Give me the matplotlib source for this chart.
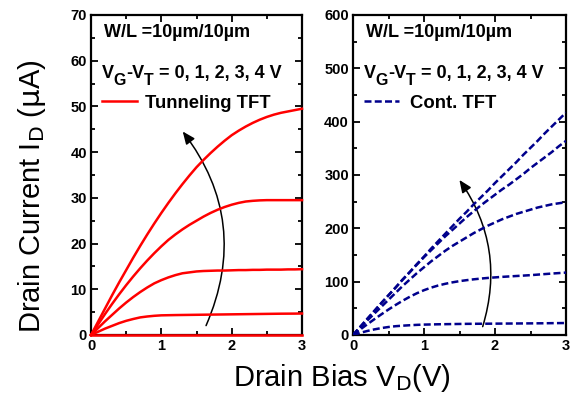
import matplotlib
matplotlib.use("Agg")
import matplotlib.pyplot as plt
from matplotlib.ticker import MultipleLocator

plt.rcParams['font.family'] = ['Liberation Sans', 'DejaVu Sans']

# Drain bias (V)
vd = [0.0, 0.1, 0.2, 0.3, 0.4, 0.5, 0.6, 0.7, 0.8, 0.9, 1.0,
      1.1, 1.2, 1.3, 1.4, 1.5, 1.6, 1.7, 1.8, 1.9, 2.0,
      2.1, 2.2, 2.3, 2.4, 2.5, 2.6, 2.7, 2.8, 2.9, 3.0]

# Tunneling TFT drain current (uA), VG-VT = 0..4 V
tun_0 = [0] * 31
tun_1 = [0, 0.7, 1.4, 2.0, 2.6, 3.1, 3.5, 3.85, 4.05, 4.2, 4.3,
         4.33, 4.36, 4.38, 4.4, 4.42, 4.44, 4.46, 4.48, 4.5, 4.52,
         4.54, 4.56, 4.58, 4.6, 4.62, 4.64, 4.66, 4.67, 4.68, 4.7]
tun_2 = [0, 1.5, 3.0, 4.4, 5.8, 7.1, 8.3, 9.4, 10.4, 11.3, 12.0,
         12.6, 13.1, 13.5, 13.7, 13.9, 14.0, 14.05, 14.1, 14.1, 14.15,
         14.2, 14.2, 14.25, 14.25, 14.3, 14.3, 14.3, 14.35, 14.35, 14.4]
tun_3 = [0, 2.3, 4.6, 6.8, 8.9, 10.9, 12.8, 14.6, 16.3, 17.9, 19.4,
         20.8, 22.0, 23.1, 24.1, 25.0, 25.9, 26.7, 27.4, 28.0, 28.5,
         28.9, 29.2, 29.35, 29.45, 29.5, 29.5, 29.5, 29.5, 29.5, 29.5]
tun_4 = [0, 2.9, 5.8, 8.7, 11.5, 14.2, 16.9, 19.5, 22.0, 24.4, 26.7,
         28.9, 31.0, 33.0, 34.9, 36.7, 38.3, 39.8, 41.2, 42.5, 43.7,
         44.7, 45.6, 46.4, 47.1, 47.7, 48.2, 48.6, 48.9, 49.2, 49.5]

# Conventional TFT drain current (uA)
con_0 = [0, 4, 7.5, 10.5, 13, 15, 16.5, 17.5, 18.3, 19, 19.5,
         19.8, 20.1, 20.3, 20.5, 20.7, 20.9, 21.0, 21.1, 21.2, 21.3,
         21.4, 21.5, 21.6, 21.7, 21.8, 21.9, 22.0, 22.2, 22.3, 22.5]
con_1 = [0, 10.2, 20, 29.5, 38.8, 47.8, 56.3, 64.3, 71.7, 78.3, 84,
         88.8, 92.8, 96.0, 98.7, 101, 102.8, 104.4, 105.8, 107, 108,
         109, 109.8, 110.6, 111.4, 112.2, 113.2, 114.2, 115.2, 116.1, 117]
con_2 = [0, 13.5, 27, 40, 53, 66, 79, 92, 104, 116, 127,
         138, 148, 158, 167, 175, 183, 191, 198, 205, 211,
         217, 222, 227, 231, 235, 239, 242, 245, 247, 249]
con_3 = [0, 15, 30, 45, 60, 74.5, 89, 104, 118, 132, 146,
         159, 172, 185, 197, 209, 221, 232, 243, 253, 263,
         273, 282, 292, 302, 313, 323, 333, 343, 354, 364]
con_4 = [0, 15, 30, 45, 60, 74.5, 89, 104, 118, 133, 147,
         162, 176, 190, 204, 218, 231, 245, 258, 271, 285,
         298, 311, 324, 338, 351, 364, 378, 391, 404, 417]

tun_curves = [tun_0, tun_1, tun_2, tun_3, tun_4]
con_curves = [con_0, con_1, con_2, con_3, con_4]

fig = plt.figure(figsize=(5.76, 4.07), dpi=100)
W, H = 576, 407
axL = fig.add_axes([91 / W, (H - 335) / H, 211 / W, 320 / H])
axR = fig.add_axes([353 / W, (H - 335) / H, 213 / W, 320 / H])

red = '#ff0000'
navy = '#00008c'

handleL = None
for c in tun_curves:
    ln, = axL.plot(vd, c, color=red, lw=1.8, clip_on=False, zorder=5)
    handleL = ln
handleR = None
for c in con_curves:
    ln, = axR.plot(vd, c, color=navy, lw=1.8, dashes=(2.8, 1.3), zorder=5)
    handleR = ln

for ax, ymax, ymaj, ymin in [(axL, 70, 10, 5), (axR, 600, 100, 50)]:
    ax.set_xlim(0, 3)
    ax.set_ylim(0, ymax)
    ax.xaxis.set_major_locator(MultipleLocator(1))
    ax.xaxis.set_minor_locator(MultipleLocator(0.5))
    ax.yaxis.set_major_locator(MultipleLocator(ymaj))
    ax.yaxis.set_minor_locator(MultipleLocator(ymin))
    ax.tick_params(which='both', direction='in', top=True, right=True, width=1.3)
    ax.tick_params(which='major', length=5, labelsize=10.5, pad=3)
    ax.tick_params(which='minor', length=3)
    for lab in ax.get_xticklabels() + ax.get_yticklabels():
        lab.set_fontweight('bold')
    for s in ax.spines.values():
        s.set_linewidth(1.6)


def vgvt_label(ax, x, y, size=13):
    """Write 'V_G-V_T = 0, 1, 2, 3, 4 V' with large subscripts."""
    sub = size * 0.88
    drop = -4.5
    t1 = ax.text(x, y, 'V', transform=ax.transAxes, fontsize=size,
                 fontweight='bold', ha='left', va='bottom')
    s1 = ax.annotate('G', xy=(1, 0), xycoords=t1, xytext=(0, drop),
                     textcoords='offset points', fontsize=sub,
                     fontweight='bold', ha='left', va='bottom')
    t2 = ax.annotate('-V', xy=(1, 0), xycoords=(s1, t1), fontsize=size,
                     fontweight='bold', ha='left', va='bottom')
    s2 = ax.annotate('T', xy=(1, 0), xycoords=t2, xytext=(0, drop),
                     textcoords='offset points', fontsize=sub,
                     fontweight='bold', ha='left', va='bottom')
    ax.annotate(' = 0, 1, 2, 3, 4 V', xy=(1, 0), xycoords=(s2, t1),
                fontsize=size, fontweight='bold', ha='left', va='bottom')


for ax in (axL, axR):
    ax.text(0.06, 0.945, 'W/L =10\u00b5m/10\u00b5m', transform=ax.transAxes,
            fontsize=13, fontweight='bold', va='center', ha='left')
    vgvt_label(ax, 0.05, 0.79)

axL.legend([handleL], ['Tunneling TFT'], loc='upper left',
           bbox_to_anchor=(0.0, 0.785), frameon=False, handlelength=1.9,
           handletextpad=0.4, borderaxespad=0.2,
           prop={'weight': 'bold', 'size': 13.3})
axR.legend([handleR], ['Cont. TFT'], loc='upper left',
           bbox_to_anchor=(0.0, 0.785), frameon=False, handlelength=1.9,
           handletextpad=0.6, borderaxespad=0.2,
           prop={'weight': 'bold', 'size': 13.3})

# Arrows indicating increasing gate bias
axL.annotate('', xy=(1.28, 45.0), xytext=(1.62, 1.5),
             arrowprops=dict(arrowstyle='-|>,head_length=0.75,head_width=0.32',
                             connectionstyle='arc3,rad=0.3', color='black',
                             lw=1.1))
axR.annotate('', xy=(1.476, 295), xytext=(1.815, 10.7),
             arrowprops=dict(arrowstyle='-|>,head_length=0.75,head_width=0.32',
                             connectionstyle='arc3,rad=0.25', color='black',
                             lw=1.1))

fig.text(342 / W, 1 - 378 / H, r'Drain Bias V$_\mathrm{D}$(V)', fontsize=21,
         ha='center', va='center')
fig.text(32 / W, 1 - 196 / H, r'Drain Current I$_\mathrm{D}$ ($\mathrm{\mu}$A)',
         fontsize=21, ha='center', va='center', rotation=90)

fig.savefig('out.png', dpi=100)
